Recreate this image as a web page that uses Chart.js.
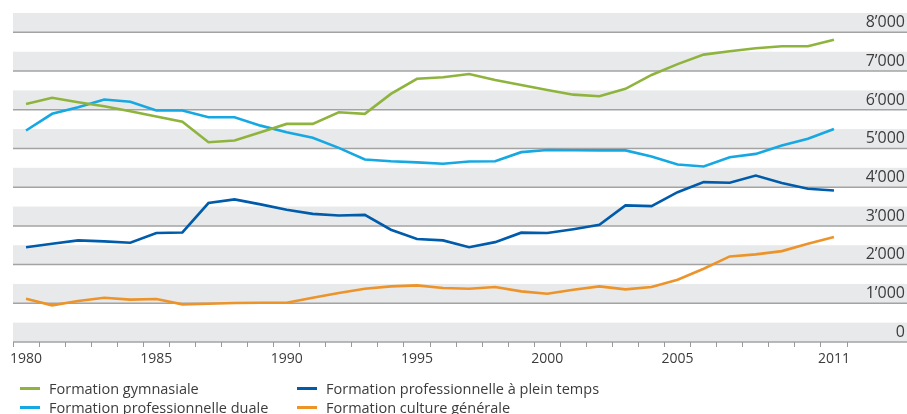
<!DOCTYPE html>
<html>
<head>
<meta charset="utf-8">
<script src="https://cdn.jsdelivr.net/npm/chart.js@4"></script>
<style>
  body { margin: 0; background: #fff; }
  #wrap { position: relative; width: 907px; height: 414px; overflow: hidden; }
  #legende { position: absolute; left: 0; top: 379px; font-family: "Open Sans", sans-serif; font-size: 14.5px; color: #3c3c3c; }
  .item { position: absolute; white-space: nowrap; line-height: 19px; }
  .item span.trait { position: absolute; top: 8px; width: 20px; height: 3px; }
</style>
</head>
<body>
<div id="wrap">
  <canvas id="graf" width="907" height="414"></canvas>
  <div id="legende"></div>
</div>
<script>
// données
const annees = [];
for (let a = 1980; a <= 2011; a++) annees.push(String(a));
const anneesAffichees = ['1980', '1985', '1990', '1995', '2000', '2005', '2011'];
const graduations = [0, 1000, 2000, 3000, 4000, 5000, 6000, 7000, 8000];

const gymnasiale = [6150, 6310, 6195, 6090, 5960, 5825, 5690, 5160, 5205, 5420, 5635, 5635, 5935, 5895, 6410, 6800,
    6840, 6925, 6770, 6640, 6510, 6390, 6350, 6540, 6900, 7180, 7425, 7510, 7590, 7640, 7640, 7810];
const duale = [5465, 5895, 6065, 6265, 6205, 5980, 5980, 5805, 5805, 5590, 5420, 5275, 5015, 4715, 4670, 4640,
    4605, 4665, 4670, 4905, 4960, 4955, 4950, 4950, 4790, 4585, 4535, 4775, 4860, 5075, 5250, 5505];
const pleinTemps = [2450, 2540, 2625, 2600, 2565, 2815, 2830, 3590, 3685, 3555, 3415, 3310, 3270, 3285, 2900, 2660,
    2625, 2450, 2580, 2825, 2815, 2915, 3030, 3530, 3510, 3870, 4130, 4115, 4300, 4105, 3960, 3915];
const cultureGenerale = [1120, 947, 1058, 1145, 1094, 1110, 973, 990, 1006, 1015, 1015, 1145, 1265, 1377, 1437, 1463,
    1394, 1377, 1420, 1308, 1248, 1352, 1437, 1360, 1420, 1610, 1894, 2211, 2263, 2348, 2539, 2710];

const series = [
    { label: 'Formation gymnasiale', data: gymnasiale, couleur: 'rgb(143, 180, 62)' },
    { label: 'Formation professionnelle duale', data: duale, couleur: 'rgb(22, 168, 226)' },
    { label: 'Formation professionnelle à plein temps', data: pleinTemps, couleur: 'rgb(0, 92, 170)' },
    { label: 'Formation culture générale', data: cultureGenerale, couleur: 'rgb(236, 148, 42)' }
];

function formatMilliers(v) {
    return v === 0 ? '0' : (v / 1000) + '\u2019000';
}

// bandes grises + lignes horizontales sur toute la largeur, puis les valeurs à droite
const bandes = {
    id: 'bandes',
    beforeDraw(chart) {
        const ctx = chart.ctx;
        const y = chart.scales.y;
        const gauche = chart.chartArea.left;
        const droite = chart.width;
        ctx.save();
        graduations.forEach(v => {
            const haut = y.getPixelForValue(v + 500);
            const bas = y.getPixelForValue(v);
            ctx.fillStyle = '#e8e9ea';
            ctx.fillRect(gauche, haut, droite - gauche, bas - haut);
            ctx.strokeStyle = '#a3a3a3';
            ctx.lineWidth = 1.5;
            ctx.beginPath();
            ctx.moveTo(gauche, bas);
            ctx.lineTo(droite, bas);
            ctx.stroke();
        });
        ctx.restore();
    },
    afterDraw(chart) {
        const ctx = chart.ctx;
        const y = chart.scales.y;
        ctx.save();
        ctx.font = '16px "Open Sans"';
        ctx.fillStyle = '#3c3c3c';
        ctx.textAlign = 'right';
        ctx.textBaseline = 'middle';
        graduations.forEach(v => {
            ctx.fillText(formatMilliers(v), chart.width - 2, y.getPixelForValue(v + 250));
        });
        ctx.restore();
    }
};

const ctx = document.getElementById('graf').getContext('2d');
const graf = new Chart(ctx, {
    type: 'line',
    data: {
        labels: annees,
        datasets: series.map(s => ({
            label: s.label,
            data: s.data,
            borderColor: s.couleur,
            backgroundColor: s.couleur,
            borderWidth: 2.6,
            pointRadius: 0,
            fill: false,
            tension: 0
        }))
    },
    options: {
        animation: false,
        responsive: false,
        layout: { padding: { left: 13, top: 13, right: 2, bottom: 0 } },
        plugins: { legend: { display: false }, tooltip: { enabled: false } },
        scales: {
            x: {
                type: 'category',
                offset: true,
                afterFit: s => { s.height = 72; },
                grid: {
                    offset: true,
                    drawOnChartArea: false,
                    drawTicks: true,
                    tickLength: 5,
                    color: '#9a9a9a',
                    lineWidth: 1
                },
                border: { display: false },
                ticks: {
                    autoSkip: false,
                    maxRotation: 0,
                    padding: 4,
                    color: '#3c3c3c',
                    font: { family: 'Open Sans', size: 14 },
                    callback: function (val) {
                        const l = this.getLabelForValue(val);
                        return anneesAffichees.includes(l) ? l : '';
                    }
                }
            },
            y: {
                position: 'right',
                min: 0,
                max: 8500,
                afterFit: s => { s.width = 58; },
                grid: { display: false },
                border: { display: false },
                ticks: { display: false, stepSize: 1000 }
            }
        }
    },
    plugins: [bandes]
});

// légende en deux colonnes
const positions = [[20, 0], [20, 19], [297, 0], [297, 19]];
const legende = document.getElementById('legende');
series.forEach((s, i) => {
    const d = document.createElement('div');
    d.className = 'item';
    d.style.left = positions[i][0] + 'px';
    d.style.top = positions[i][1] + 'px';
    d.innerHTML = '<span class="trait" style="left:0;background:' + s.couleur + '"></span>' +
        '<span style="margin-left:29px">' + s.label + '</span>';
    legende.appendChild(d);
});
</script>
</body>
</html>
